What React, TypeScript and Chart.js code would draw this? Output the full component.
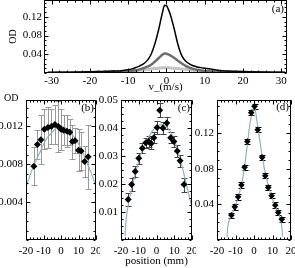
import React, { useEffect, useRef } from 'react';
import { Chart, registerables } from 'chart.js';

Chart.register(...registerables);

const SERIF = '"Liberation Serif", "Times New Roman", Times, serif';

// ---------------- Panel (a): OD vs velocity ----------------
const velocity = [-31, -28, -25, -22, -20, -18, -16, -14, -12, -10, -9, -8, -7, -6, -5, -4, -3, -2, -1.5, -1, -0.5, 0, 0.5, 1, 2, 3, 4, 5, 6, 7, 8, 9, 10, 12, 14, 16, 18, 20, 22, 25, 28, 31];
const odHigh = [0.0012, 0.0014, 0.0017, 0.0021, 0.0025, 0.003, 0.0036, 0.0042, 0.005, 0.007, 0.0088, 0.0118, 0.0152, 0.0195, 0.027, 0.04, 0.063, 0.094, 0.113, 0.131, 0.145, 0.144, 0.136, 0.125, 0.095, 0.061, 0.037, 0.0255, 0.0195, 0.0155, 0.013, 0.0115, 0.0103, 0.0078, 0.0054, 0.0043, 0.0036, 0.003, 0.0025, 0.002, 0.0016, 0.0013];
const odMid = [0.0006, 0.0006, 0.0007, 0.0009, 0.001, 0.0012, 0.0015, 0.0019, 0.0026, 0.0038, 0.0047, 0.006, 0.0078, 0.0102, 0.0135, 0.0178, 0.0245, 0.032, 0.036, 0.0395, 0.0415, 0.0412, 0.0398, 0.0378, 0.0325, 0.0262, 0.0202, 0.0152, 0.0115, 0.0088, 0.0068, 0.0054, 0.0044, 0.003, 0.0022, 0.0017, 0.0013, 0.0011, 0.0009, 0.0007, 0.0006, 0.0006];
const odLow = [0.0008, 0.0009, 0.001, 0.0012, 0.0013, 0.0015, 0.0018, 0.0022, 0.0028, 0.0036, 0.0042, 0.0049, 0.0057, 0.0066, 0.0076, 0.0086, 0.0096, 0.0104, 0.0107, 0.011, 0.0112, 0.0112, 0.0111, 0.0109, 0.0104, 0.0097, 0.0088, 0.0078, 0.0068, 0.0058, 0.005, 0.0043, 0.0037, 0.0028, 0.0022, 0.0018, 0.0015, 0.0013, 0.0012, 0.001, 0.0009, 0.0008];
const velTicks = [-30, -20, -10, 0, 10, 20, 30];
const velTickLabels = ['-30', '-20', '-10', '0', '10', '20', '30'];
const odTicksA = [0.04, 0.08, 0.12];
const odTickLabelsA = ['0.04', '0.08', '0.12'];

// ---------------- Panel (b) ----------------
const posB = [-15.5, -13.5, -11.5, -9.5, -7.5, -5.5, -3.5, -1.5, 0, 1.5, 3.5, 5, 6.5, 8, 10, 11.5, 13.5, 15.5];
const odB = [0.0078, 0.0101, 0.0106, 0.0117, 0.0119, 0.012, 0.0122, 0.012, 0.0117, 0.0116, 0.0115, 0.0114, 0.0104, 0.0105, 0.0095, 0.0094, 0.0083, 0.0088];
const errB = [0.002, 0.0015, 0.0026, 0.0021, 0.0022, 0.0019, 0.0021, 0.0027, 0.0022, 0.0016, 0.0017, 0.0014, 0.0018, 0.0013, 0.0022, 0.002, 0.0016, 0.0034];
const fitPosB = [-20, -19, -17, -15, -13, -11, -9, -7, -5, -3, -1, 1, 3, 5, 7, 9, 11, 13, 15, 17, 19, 20];
const fitB = [0.0056, 0.0061, 0.0072, 0.0081, 0.0089, 0.0097, 0.0105, 0.011, 0.0114, 0.0118, 0.012, 0.012, 0.0118, 0.0114, 0.011, 0.0105, 0.0098, 0.009, 0.0081, 0.0072, 0.0062, 0.0056];
const odTicksB = [0.004, 0.008, 0.012];
const odTickLabelsB = ['0.004', '0.008', '0.012'];

// ---------------- Panel (c) ----------------
const posC = [-16, -14, -12, -10, -8, -6, -4.5, -3, -1.5, 0.3, 1.8, 3.6, 5.8, 8, 9.8, 11.7, 13.3, 15.5];
const odC = [0.0145, 0.0198, 0.0245, 0.0292, 0.0328, 0.0347, 0.0352, 0.0345, 0.0365, 0.0402, 0.0463, 0.04, 0.0418, 0.0365, 0.0352, 0.0318, 0.0283, 0.0198];
const errC = [0.0022, 0.0022, 0.002, 0.002, 0.0018, 0.0018, 0.002, 0.002, 0.002, 0.0022, 0.0025, 0.0022, 0.002, 0.002, 0.002, 0.002, 0.0022, 0.0025];
const fitPosC = [-17.7, -17.3, -16.8, -16, -15, -14, -12, -10, -8, -6, -4, -2, 0, 2, 4, 6, 8, 10, 12, 14, 16, 18, 20];
const fitC = [0.0015, 0.006, 0.009, 0.0122, 0.0155, 0.0185, 0.0235, 0.0282, 0.032, 0.035, 0.0372, 0.0392, 0.0405, 0.0412, 0.041, 0.0402, 0.0385, 0.0358, 0.0318, 0.0272, 0.0222, 0.0168, 0.0115];
const odTicksC = [0.01, 0.02, 0.03, 0.04, 0.05];
const odTickLabelsC = ['0.01', '0.02', '0.03', '0.04', '0.05'];

// ---------------- Panel (d) ----------------
const posD = [-12.2, -10.4, -8.6, -6.8, -5.1, -3.6, -1.5, 0.3, 2.0, 4.4, 6.1, 7.7, 9.5, 11.5, 13.1, 15.0];
const odD = [0.0278, 0.0372, 0.0484, 0.0616, 0.0815, 0.1104, 0.1428, 0.1499, 0.1236, 0.0927, 0.0721, 0.0589, 0.0496, 0.0391, 0.0308, 0.0233];
const errD = [0.003, 0.003, 0.003, 0.003, 0.003, 0.003, 0.003, 0.003, 0.003, 0.003, 0.003, 0.003, 0.003, 0.003, 0.003, 0.003];
const fitPosD = [-14.6, -14.2, -13.5, -12, -10, -8, -6, -4, -2, -1, 0, 0.3, 1, 2, 4, 6, 8, 10, 12, 14, 15, 15.5];
const fitD = [0.003, 0.014, 0.021, 0.029, 0.039, 0.052, 0.07, 0.1, 0.133, 0.142, 0.149, 0.15, 0.142, 0.128, 0.1, 0.076, 0.059, 0.046, 0.035, 0.025, 0.016, 0.004];
const odTicksD = [0.04, 0.08, 0.12];
const odTickLabelsD = ['0.04', '0.08', '0.12'];

const posTicks = [-20, -10, 0, 10, 20];
const posTickLabels = ['-20', '-10', '0', '10', '20'];

// ------------------------------------------------------------
const FIT_COLOR = '#8fb4bf';

const pts = (xs: number[], ys: number[]) => xs.map((x, i) => ({ x, y: ys[i] }));

interface TextSpec { text: string; ax: 'left' | 'right'; dx: number; dy: number; align: CanvasTextAlign; size: number; }
interface ErrSpec { x: number[]; y: number[]; err: number[]; color: string; cap: number; }
interface Spec {
  xMin: number; xMax: number; yMin: number; yMax: number;
  xTicks: number[]; xLabels: string[]; yTicks: number[]; yLabels: string[];
  xMinor: number; yMinor: number;
  yWidth: number; xHeight: number; padTop: number; padRight: number;
  xPad: number; yPad: number;
  xTitle?: string; xTitlePad?: number; yTitle?: string; yTitlePad?: number;
  datasets: any[]; errors?: ErrSpec; texts: TextSpec[];
}

function panelPlugin(spec: Spec) {
  return {
    id: 'panelDecor',
    beforeDatasetsDraw(chart: any) {
      const e = spec.errors;
      if (!e) return;
      const { ctx } = chart;
      const xs = chart.scales.x, ys = chart.scales.y;
      const a = chart.chartArea;
      ctx.save();
      ctx.beginPath();
      ctx.rect(a.left, a.top, a.right - a.left, a.bottom - a.top);
      ctx.clip();
      ctx.strokeStyle = e.color;
      ctx.lineWidth = 1;
      e.x.forEach((xv, i) => {
        const px = Math.round(xs.getPixelForValue(xv)) + 0.5;
        const y1 = Math.round(ys.getPixelForValue(e.y[i] - e.err[i])) + 0.5;
        const y2 = Math.round(ys.getPixelForValue(e.y[i] + e.err[i])) + 0.5;
        ctx.beginPath();
        ctx.moveTo(px, y1); ctx.lineTo(px, y2);
        ctx.moveTo(px - e.cap, y1); ctx.lineTo(px + e.cap, y1);
        ctx.moveTo(px - e.cap, y2); ctx.lineTo(px + e.cap, y2);
        ctx.stroke();
      });
      ctx.restore();
    },
    afterDatasetsDraw(chart: any) {
      const { ctx } = chart;
      const a = chart.chartArea;
      const xs = chart.scales.x, ys = chart.scales.y;
      const L = Math.round(a.left) + 0.5, R = Math.round(a.right) - 0.5;
      const T = Math.round(a.top) + 0.5, B = Math.round(a.bottom) - 0.5;
      ctx.save();
      ctx.strokeStyle = '#000';
      ctx.lineWidth = 1;
      ctx.strokeRect(L, T, R - L, B - T);
      ctx.beginPath();
      const xTick = (v: number, len: number) => {
        const p = Math.round(xs.getPixelForValue(v)) + 0.5;
        ctx.moveTo(p, B); ctx.lineTo(p, B - len);
        ctx.moveTo(p, T); ctx.lineTo(p, T + len);
      };
      const yTick = (v: number, len: number) => {
        const p = Math.round(ys.getPixelForValue(v)) + 0.5;
        ctx.moveTo(L, p); ctx.lineTo(L + len, p);
        ctx.moveTo(R, p); ctx.lineTo(R - len, p);
      };
      const k0x = Math.ceil(xs.min / spec.xMinor - 1e-9), k1x = Math.floor(xs.max / spec.xMinor + 1e-9);
      for (let k = k0x; k <= k1x; k++) xTick(k * spec.xMinor, 2);
      const k0y = Math.ceil(ys.min / spec.yMinor - 1e-9), k1y = Math.floor(ys.max / spec.yMinor + 1e-9);
      for (let k = k0y; k <= k1y; k++) yTick(k * spec.yMinor, 2);
      xs.ticks.forEach((t: any) => xTick(t.value, 4));
      ys.ticks.forEach((t: any) => yTick(t.value, 4));
      ctx.stroke();
      ctx.restore();
    },
    afterDraw(chart: any) {
      const { ctx } = chart;
      const a = chart.chartArea;
      ctx.save();
      ctx.fillStyle = '#000';
      ctx.textBaseline = 'middle';
      spec.texts.forEach((t) => {
        ctx.font = `${t.size}px ${SERIF}`;
        ctx.textAlign = t.align;
        const x = (t.ax === 'right' ? a.right : a.left) + t.dx;
        ctx.fillText(t.text, x, a.top + t.dy);
      });
      ctx.restore();
    },
  };
}

function makeConfig(spec: Spec): any {
  const font = { family: SERIF, size: 11 };
  return {
    type: 'scatter',
    data: { datasets: spec.datasets },
    options: {
      animation: false,
      responsive: false,
      maintainAspectRatio: false,
      events: [],
      layout: { padding: { top: spec.padTop, right: spec.padRight, left: 0, bottom: 0 } },
      plugins: { legend: { display: false }, tooltip: { enabled: false }, title: { display: false } },
      scales: {
        x: {
          type: 'linear', position: 'bottom', min: spec.xMin, max: spec.xMax,
          grid: { display: false, drawTicks: false }, border: { display: false },
          ticks: {
            autoSkip: false, maxRotation: 0, minRotation: 0, padding: spec.xPad, color: '#000', font,
            callback: (_v: number, i: number) => spec.xLabels[i] ?? '',
          },
          afterBuildTicks: (s: any) => { s.ticks = spec.xTicks.map((v) => ({ value: v })); },
          afterFit: (s: any) => { s.height = spec.xHeight; s.paddingLeft = 0; s.paddingRight = 0; },
          title: spec.xTitle
            ? { display: true, text: spec.xTitle, color: '#000', font, padding: { top: 0, bottom: spec.xTitlePad ?? 0 } }
            : { display: false },
        },
        y: {
          type: 'linear', position: 'left', min: spec.yMin, max: spec.yMax,
          grid: { display: false, drawTicks: false }, border: { display: false },
          ticks: {
            autoSkip: false, padding: spec.yPad, color: '#000', font,
            callback: (_v: number, i: number) => spec.yLabels[i] ?? '',
          },
          afterBuildTicks: (s: any) => { s.ticks = spec.yTicks.map((v) => ({ value: v })); },
          afterFit: (s: any) => { s.width = spec.yWidth; s.paddingTop = 0; s.paddingBottom = 0; },
          title: spec.yTitle
            ? { display: true, text: spec.yTitle, color: '#000', font: { family: SERIF, size: 10 }, padding: { top: spec.yTitlePad ?? 0, bottom: 0 } }
            : { display: false },
        },
      },
    },
    plugins: [panelPlugin(spec)],
  };
}

const pointSet = (xs: number[], ys: number[], r: number) => ({
  data: pts(xs, ys), showLine: false, pointStyle: 'rectRot', pointRadius: r,
  backgroundColor: '#000', borderColor: '#000', borderWidth: 0,
});
const fitSet = (xs: number[], ys: number[]) => ({
  data: pts(xs, ys), showLine: true, pointRadius: 0, borderColor: FIT_COLOR, borderWidth: 1.2,
  cubicInterpolationMode: 'monotone', fill: false,
});
const curveSet = (ys: number[], color: string, w: number) => ({
  data: pts(velocity, ys), showLine: true, pointRadius: 0, borderColor: color, borderWidth: w,
  cubicInterpolationMode: 'monotone', fill: false,
});

const specA: Spec = {
  xMin: -32, xMax: 31.5, yMin: 0, yMax: 0.156,
  xTicks: velTicks, xLabels: velTickLabels, yTicks: odTicksA, yLabels: odTickLabelsA,
  xMinor: 2, yMinor: 0.01,
  yWidth: 44, xHeight: 22, padTop: 0, padRight: 8, xPad: 2, yPad: 2,
  xTitle: 'v_(m/s)', xTitlePad: 1, yTitle: 'OD', yTitlePad: 7,
  datasets: [curveSet(odHigh, '#000000', 1.5), curveSet(odMid, '#6e6e6e', 2.5), curveSet(odLow, '#c4c4c4', 3)],
  texts: [{ text: '(a)', ax: 'right', dx: -3, dy: 9, align: 'right', size: 11 }],
};

const specB: Spec = {
  xMin: -20, xMax: 20, yMin: 0, yMax: 0.0148,
  xTicks: posTicks, xLabels: posTickLabels, yTicks: odTicksB, yLabels: odTickLabelsB,
  xMinor: 2, yMinor: 0.001,
  yWidth: 26, xHeight: 28, padTop: 10, padRight: 4, xPad: 5, yPad: 3,
  datasets: [pointSet(posB, odB, 3.5), fitSet(fitPosB, fitB)],
  errors: { x: posB, y: odB, err: errB, color: '#999999', cap: 3 },
  texts: [
    { text: '(b)', ax: 'right', dx: -2, dy: 8, align: 'right', size: 11 },
    { text: 'OD', ax: 'left', dx: -22, dy: -2, align: 'left', size: 10 },
  ],
};

const specC: Spec = {
  xMin: -20, xMax: 20, yMin: 0, yMax: 0.05,
  xTicks: posTicks, xLabels: posTickLabels, yTicks: odTicksC, yLabels: odTickLabelsC,
  xMinor: 2, yMinor: 0.0025,
  yWidth: 25, xHeight: 28, padTop: 10, padRight: 4, xPad: 5, yPad: 3,
  xTitle: 'position (mm)', xTitlePad: 0,
  datasets: [pointSet(posC, odC, 3.5), fitSet(fitPosC, fitC)],
  errors: { x: posC, y: odC, err: errC, color: '#444444', cap: 3 },
  texts: [{ text: '(c)', ax: 'right', dx: -2, dy: 8, align: 'right', size: 11 }],
};

const specD: Spec = {
  xMin: -20, xMax: 20, yMin: 0, yMax: 0.157,
  xTicks: posTicks, xLabels: posTickLabels, yTicks: odTicksD, yLabels: odTickLabelsD,
  xMinor: 2, yMinor: 0.01,
  yWidth: 25, xHeight: 28, padTop: 10, padRight: 3, xPad: 5, yPad: 3,
  datasets: [pointSet(posD, odD, 3.3), fitSet(fitPosD, fitD)],
  errors: { x: posD, y: odD, err: errD, color: '#000000', cap: 3 },
  texts: [{ text: '(d)', ax: 'right', dx: -2, dy: 7, align: 'right', size: 11 }],
};

function Panel({ left, top, width, height, spec }: { left: number; top: number; width: number; height: number; spec: Spec }) {
  const ref = useRef<HTMLCanvasElement>(null);
  useEffect(() => {
    const chart = new Chart(ref.current as HTMLCanvasElement, makeConfig(spec));
    return () => chart.destroy();
  }, [spec]);
  return (
    <canvas
      ref={ref}
      width={width}
      height={height}
      style={{ position: 'absolute', left, top, width, height, display: 'block' }}
    />
  );
}

export default function App() {
  return (
    <div style={{ position: 'absolute', left: 0, top: 0, width: 295, height: 268, background: '#fff', overflow: 'hidden' }}>
      <Panel left={0} top={0} width={295} height={95} spec={specA} />
      <Panel left={0} top={90} width={100} height={178} spec={specB} />
      <Panel left={96} top={90} width={100} height={178} spec={specC} />
      <Panel left={192} top={90} width={103} height={178} spec={specD} />
    </div>
  );
}
